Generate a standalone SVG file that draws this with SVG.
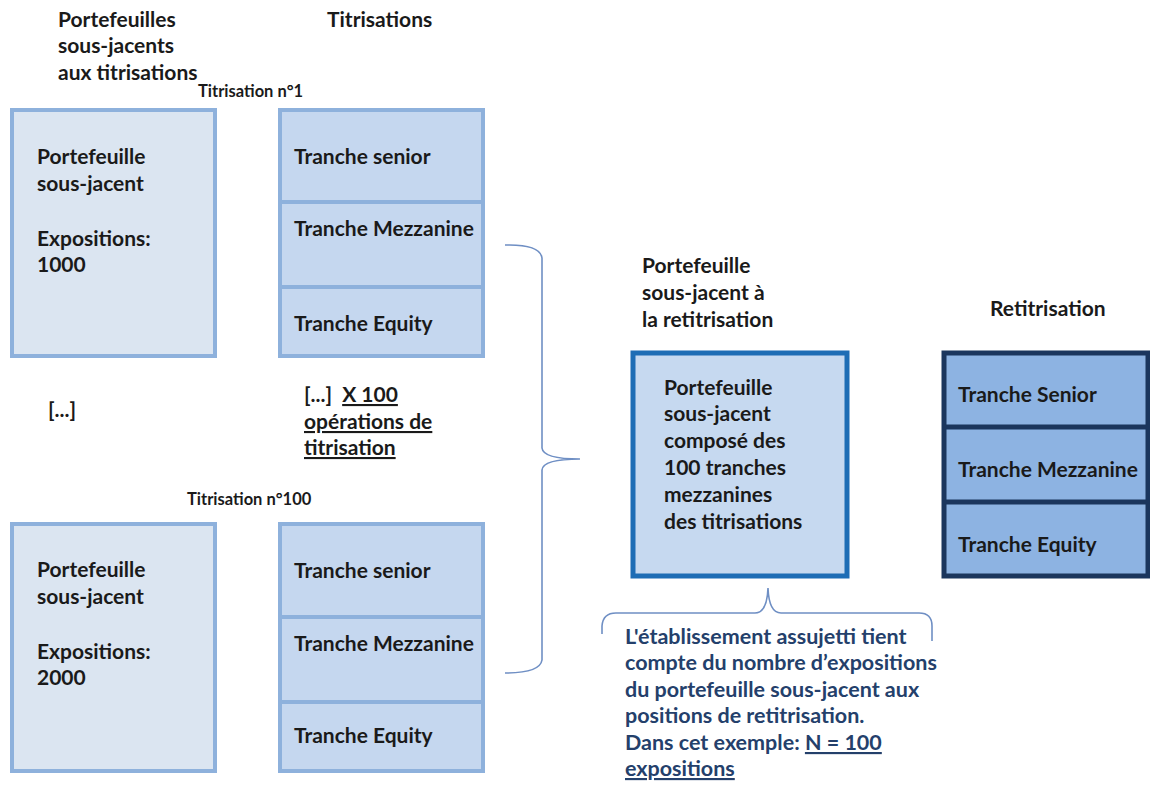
<svg xmlns="http://www.w3.org/2000/svg" width="1150" height="785" viewBox="0 0 1150 785">
<defs>
<style>
text{font-family:Lato,"Open Sans","Liberation Sans",sans-serif;font-weight:700;font-size:21px;fill:#1a1a1a}
.small{font-size:16.5px}
.note{fill:#24406b;font-size:21.5px}
.u{text-decoration:underline}
.pf{fill:#dbe5f1;stroke:#8eb1dc;stroke-width:4}
.tr{fill:#c5d7ef;stroke:#8eb1dc;stroke-width:4}
.div{stroke:#8eb1dc;stroke-width:4}
.mid{fill:#c6d9f0;stroke:#1e6db5;stroke-width:5}
.re{fill:#8db3e2;stroke:#1b365d;stroke-width:5}
.rdiv{stroke:#1b365d;stroke-width:5}
.brace{fill:none;stroke:#6f8fc4;stroke-width:1.6}
</style>
</defs>
<rect width="1150" height="785" fill="#ffffff"/>

<g id="headers">
<text x="58" y="27">Portefeuilles</text>
<text x="58" y="53">sous-jacents</text>
<text x="58" y="80">aux titrisations</text>
<text x="327" y="27">Titrisations</text>
<text class="small" x="198" y="97">Titrisation n°1</text>
<text x="48" y="417">[...]</text>
<text x="304" y="402">[...]<tspan class="u" dx="10">X 100</tspan></text>
<text class="u" x="304" y="429">opérations de</text>
<text class="u" x="304" y="455">titrisation</text>
<text class="small" x="187" y="505">Titrisation n°100</text>
<text x="642" y="273">Portefeuille</text>
<text x="642" y="300">sous-jacent à</text>
<text x="642" y="327">la retitrisation</text>
<text x="990" y="316">Retitrisation</text>
</g>

<g id="portefeuille1">
<rect class="pf" x="12" y="110" width="203" height="246"/>
<text x="37" y="164">Portefeuille</text>
<text x="37" y="191">sous-jacent</text>
<text x="37" y="246">Expositions:</text>
<text x="37" y="272">1000</text>
</g>

<g id="titrisation1">
<rect class="tr" x="280" y="110" width="203" height="246"/>
<line class="div" x1="280" y1="202" x2="483" y2="202"/>
<line class="div" x1="280" y1="287" x2="483" y2="287"/>
<text x="294" y="164">Tranche senior</text>
<text x="294" y="236">Tranche Mezzanine</text>
<text x="294" y="331">Tranche Equity</text>
</g>

<g id="portefeuille100">
<rect class="pf" x="12" y="524" width="203" height="247"/>
<text x="37" y="577">Portefeuille</text>
<text x="37" y="604">sous-jacent</text>
<text x="37" y="659">Expositions:</text>
<text x="37" y="685">2000</text>
</g>

<g id="titrisation100">
<rect class="tr" x="280" y="524" width="203" height="247"/>
<line class="div" x1="280" y1="617" x2="483" y2="617"/>
<line class="div" x1="280" y1="702" x2="483" y2="702"/>
<text x="294" y="578">Tranche senior</text>
<text x="294" y="651">Tranche Mezzanine</text>
<text x="294" y="743">Tranche Equity</text>
</g>

<g id="portefeuille-retitrisation">
<rect class="mid" x="633" y="353" width="214" height="223"/>
<text x="664" y="395">Portefeuille</text>
<text x="664" y="421">sous-jacent</text>
<text x="664" y="448">composé des</text>
<text x="664" y="475">100 tranches</text>
<text x="664" y="502">mezzanines</text>
<text x="664" y="529">des titrisations</text>
</g>

<g id="retitrisation">
<rect class="re" x="944" y="353" width="204" height="223"/>
<line class="rdiv" x1="944" y1="427" x2="1148" y2="427"/>
<line class="rdiv" x1="944" y1="502" x2="1148" y2="502"/>
<text x="958" y="402">Tranche Senior</text>
<text x="958" y="477">Tranche Mezzanine</text>
<text x="958" y="552">Tranche Equity</text>
</g>

<g id="note">
<text class="note" x="625" y="644">L'établissement assujetti tient</text>
<text class="note" x="625" y="670">compte du nombre d’expositions</text>
<text class="note" x="625" y="697">du portefeuille sous-jacent aux</text>
<text class="note" x="625" y="723">positions de retitrisation.</text>
<text class="note" x="625" y="750">Dans cet exemple: <tspan class="u">N = 100</tspan></text>
<text class="note u" x="625" y="776">expositions</text>
</g>

<g id="connectors">
<path class="brace" d="M505,245 Q540,244 542,258 L542,448 Q543,459 580,459 Q543,459 542,470 L542,660 Q540,673 505,673"/>
<path class="brace" d="M602,634 L602,626 Q603,613 616,613 L755,613 Q767,613 768,588 Q769,613 781,613 L919,613 Q932,613 932,626 L932,641"/>
</g>
</svg>
